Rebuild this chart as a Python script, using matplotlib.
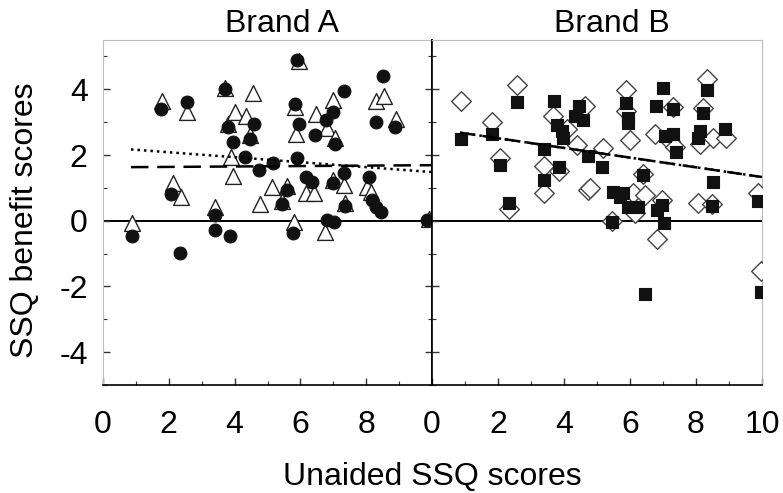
import numpy as np
import matplotlib
matplotlib.use("Agg")
import matplotlib.pyplot as plt
from matplotlib.ticker import MultipleLocator

plt.rcParams["font.family"] = ["Liberation Sans", "DejaVu Sans"]
plt.rcParams["axes.unicode_minus"] = False

# Brand A: filled circles and open triangles
circ_x = [0.88, 1.76, 2.06, 2.33, 2.55, 3.4, 3.4, 3.7, 3.8, 3.85, 3.94, 4.33, 4.48, 4.6,
          4.73, 5.18, 5.58, 5.45, 5.76, 5.85, 5.9, 5.9, 5.97, 6.18, 6.36, 6.45, 6.79, 6.82,
          7.0, 7.0, 7.03, 7.06, 7.33, 7.33, 7.36, 8.1, 8.18, 8.3, 8.45, 8.3, 8.5, 8.88, 9.85]
circ_y = [-0.48, 3.4, 0.81, -0.99, 3.6, 0.18, -0.27, 4.0, 2.85, -0.45, 2.4, 1.93, 2.5, 2.95,
          1.54, 1.75, 0.95, 0.5, -0.36, 3.55, 4.9, 1.9, 2.95, 1.33, 1.17, 2.6, 3.07, 0.03,
          3.3, 1.15, -0.03, 2.35, 3.95, 1.45, 0.45, 1.33, 0.63, 0.42, 0.27, 3.0, 4.4, 2.86, 0.03]
tri_x = [0.88, 1.8, 2.12, 2.36, 2.55, 3.4, 3.7, 3.8, 3.88, 3.94, 4.0, 4.36, 4.48, 4.57, 4.76,
         5.15, 5.58, 5.45, 5.82, 5.85, 5.88, 5.95, 6.18, 6.42, 6.48, 6.76, 6.82, 7.0, 7.0,
         7.06, 7.33, 7.36, 8.03, 8.15, 8.3, 8.55, 8.9, 9.9]
tri_y = [-0.06, 3.65, 1.14, 0.72, 3.3, 0.42, 4.05, 2.95, 1.93, 1.36, 3.3, 3.2, 2.6, 3.9, 0.5,
         1.02, 1.05, 0.6, -0.03, 3.45, 2.65, 4.85, 0.84, 0.84, 3.25, -0.33, 2.83, 3.67, 1.25,
         2.53, 1.08, 0.55, 1.02, 0.88, 3.64, 3.8, 3.1, 0.05]

# Brand B: filled squares and open diamonds
sq_x = [0.88, 2.58, 1.82, 2.06, 2.33, 3.4, 3.4, 3.7, 3.78, 3.94, 3.97, 3.85, 4.45, 4.33, 4.58,
        4.73, 5.15, 5.88, 5.94, 5.94, 6.8, 7.0, 7.3, 8.33, 8.2, 7.06, 7.3, 7.4, 8.12, 8.06,
        8.88, 6.39, 8.52, 9.88, 5.48, 5.79, 5.7, 5.94, 6.24, 6.97, 6.82, 8.48, 5.45, 7.03,
        6.45, 9.97]
sq_y = [2.5, 3.6, 2.65, 1.69, 0.54, 2.17, 1.23, 3.64, 2.9, 2.74, 2.53, 1.63, 3.5, 3.2, 3.07,
        1.96, 1.63, 3.58, 3.13, 2.98, 3.5, 4.04, 3.4, 3.97, 3.28, 2.59, 2.65, 2.08, 2.74, 2.53,
        2.8, 1.38, 1.18, 0.6, 0.87, 0.84, 0.72, 0.42, 0.42, 0.48, 0.33, 0.45, -0.03, -0.06,
        -2.23, -2.17]
dia_x = [0.88, 2.58, 1.82, 2.06, 2.33, 3.67, 4.1, 4.64, 4.4, 3.4, 3.85, 3.4, 4.73, 8.33, 5.88,
         7.3, 8.2, 5.88, 6.0, 6.76, 7.2, 7.36, 8.12, 8.52, 8.9, 5.18, 4.79, 6.39, 9.88, 6.1,
         6.45, 6.15, 6.97, 8.06, 8.48, 5.45, 6.82, 9.97]
dia_y = [3.64, 4.12, 3.0, 1.9, 0.36, 3.2, 2.8, 3.5, 2.3, 1.66, 1.5, 0.85, 0.93, 4.3, 3.97,
         3.45, 3.43, 3.34, 2.47, 2.65, 2.44, 2.23, 2.35, 2.53, 2.53, 2.2, 1.0, 1.42, 0.84, 0.84,
         0.78, 0.24, 0.63, 0.54, 0.5, 0.0, -0.55, -1.54]

# fitted lines (end points)
fit_x = [0.85, 10.0]
fitA_dot = [2.17, 1.48]
fitA_dash = [1.63, 1.69]
fitB = [2.68, 1.33]

fig = plt.figure(figsize=(7.83, 4.93), dpi=100)
axA = fig.add_axes([103 / 783, 108 / 493, 329 / 783, 345 / 493])
axB = fig.add_axes([432 / 783, 108 / 493, 330 / 783, 345 / 493])

light = "#bdbdbd"
fs = 23
for ax in (axA, axB):
    ax.set_xlim(0, 10)
    ax.set_ylim(-5, 5.5)
    ax.axhline(0, color="black", lw=1.4, zorder=1)
    ax.xaxis.set_major_locator(MultipleLocator(2))
    ax.xaxis.set_minor_locator(MultipleLocator(1))
    ax.yaxis.set_major_locator(MultipleLocator(2))
    ax.yaxis.set_minor_locator(MultipleLocator(1))
    ax.tick_params(which="both", direction="in", labelsize=fs, color="#333333")
    ax.tick_params(which="major", length=5, width=1)
    ax.tick_params(which="minor", length=3, width=0.8)
    ax.tick_params(axis="x", pad=18)
    ax.spines["top"].set_color(light)
    ax.spines["bottom"].set_linewidth(1.2)

axA.spines["left"].set_color(light)
axA.spines["right"].set_linewidth(1.2)
axB.spines["right"].set_color(light)
axB.spines["left"].set_linewidth(1.2)

axA.tick_params(axis="y", which="both", left=True, right=True)
axA.set_xticks([0, 2, 4, 6, 8])
axA.set_yticks([-4, -2, 0, 2, 4])
axA.tick_params(axis="y", pad=11)
axB.set_yticks([-4, -2, 0, 2, 4])
axB.tick_params(axis="y", labelleft=False)
axB.set_xticks([0, 2, 4, 6, 8, 10])

axA.scatter(tri_x, tri_y, marker="^", s=130, facecolor="white", edgecolor="#222222",
            linewidth=1.0, zorder=3)
axA.scatter(circ_x, circ_y, marker="o", s=85, facecolor="#111111", edgecolor="#111111",
            linewidth=0.8, zorder=4)
axA.plot(fit_x, fitA_dot, ls=(0, (1, 1.6)), color="black", lw=1.8, zorder=5)
axA.plot(fit_x, fitA_dash, ls=(0, (7, 3.5)), color="black", lw=1.8, zorder=5)

axB.scatter(dia_x, dia_y, marker="D", s=100, facecolor="white", edgecolor="#444444",
            linewidth=1.0, zorder=3)
axB.scatter(sq_x, sq_y, marker="s", s=75, facecolor="#111111", edgecolor="#111111",
            linewidth=0.8, zorder=4)
axB.plot(fit_x, fitB, ls=(0, (1, 1.6)), color="black", lw=1.8, zorder=5)
axB.plot(fit_x, fitB, ls=(0, (6, 3)), color="black", lw=1.8, zorder=5)

axA.set_title("Brand A", fontsize=fs, pad=6, x=0.545)
axB.set_title("Brand B", fontsize=fs, pad=6, x=0.545)
fig.text(25 / 783, 1 - 220 / 493, "SSQ benefit scores", fontsize=fs, rotation=90,
         ha="center", va="center")
fig.text(432 / 783, 1 - 477 / 493, "Unaided SSQ scores", fontsize=fs, ha="center", va="center")

fig.savefig("out.png", dpi=100)
